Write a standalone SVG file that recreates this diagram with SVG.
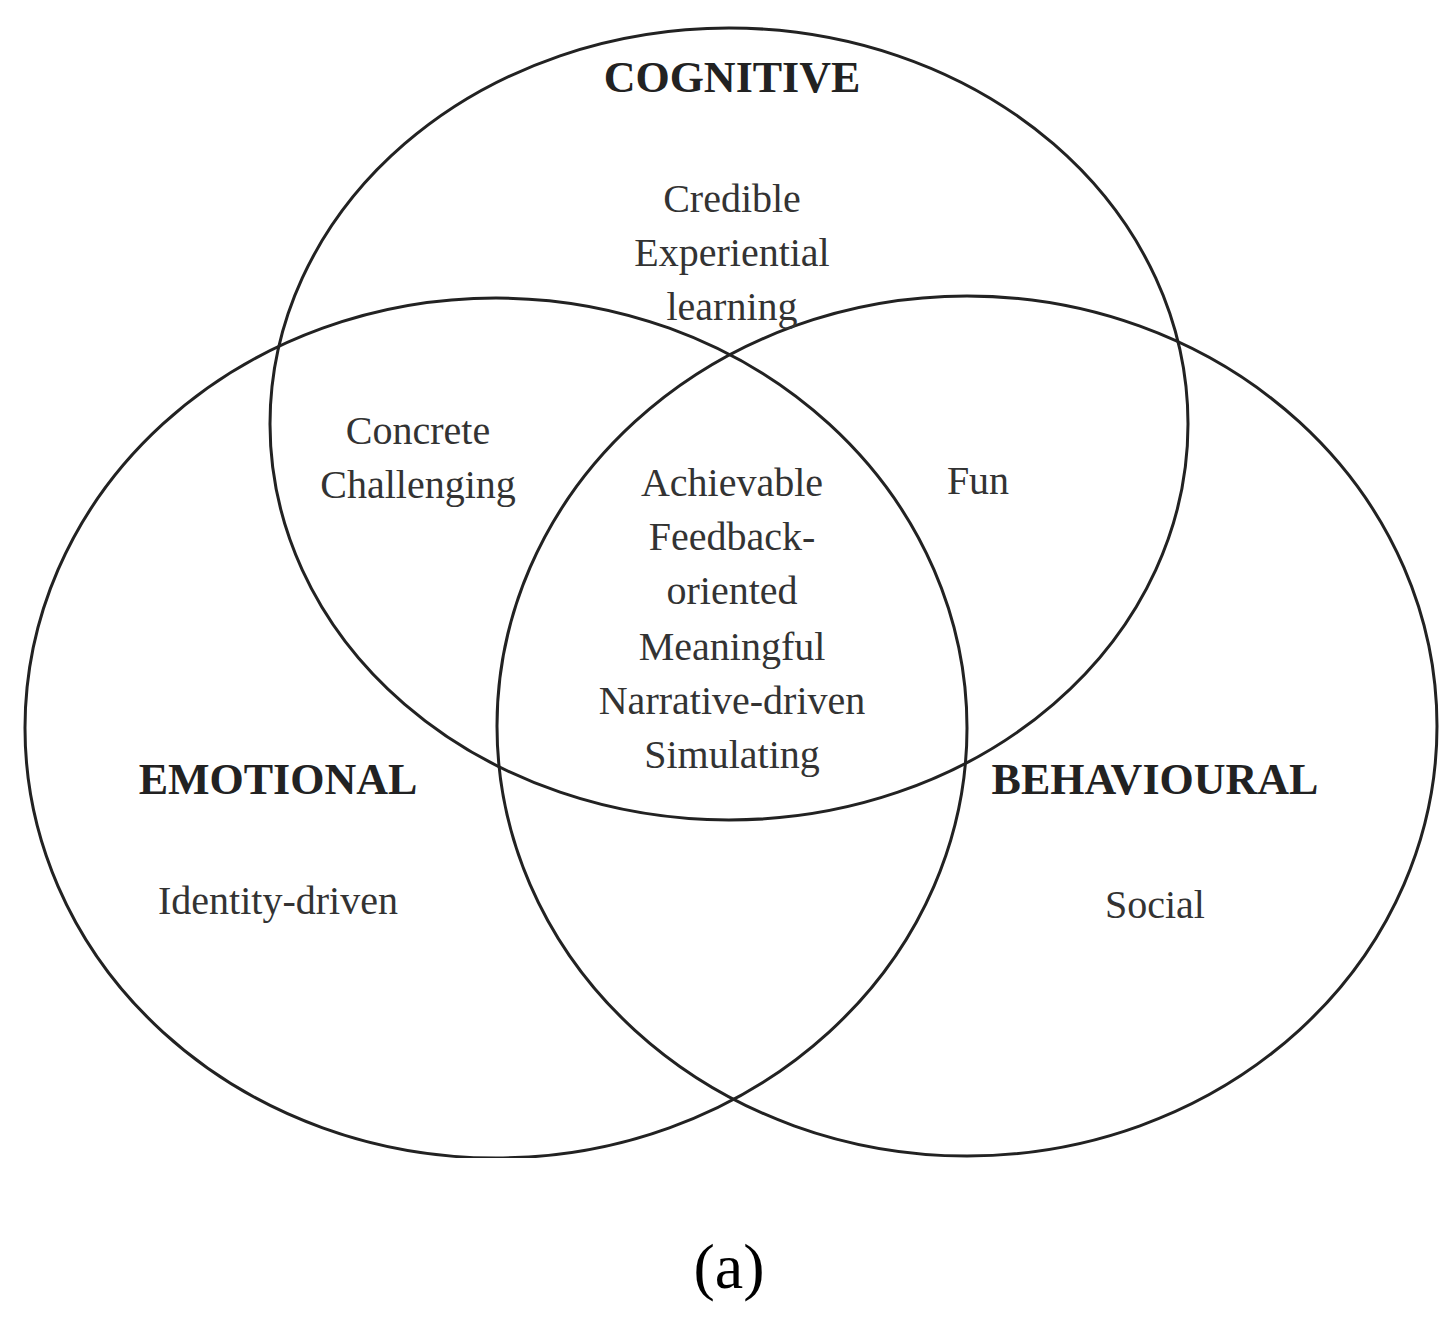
<svg xmlns="http://www.w3.org/2000/svg" width="1456" height="1328" viewBox="0 0 1456 1328">
<style>
.c{fill:none;stroke:#222;stroke-width:3}
.h{font-family:"Liberation Serif",serif;font-weight:bold;font-size:44px;fill:#222;text-anchor:middle}
.t{font-family:"Liberation Serif",serif;font-size:40px;fill:#333;text-anchor:middle}
</style>
<rect width="1456" height="1328" fill="#fff"/>
<defs><clipPath id="cp"><rect x="0" y="0" width="1456" height="1158"/></clipPath></defs>
<g id="connectors" clip-path="url(#cp)">
<ellipse id="cog" class="c" cx="729" cy="424" rx="459" ry="396"/>
<ellipse id="emo" class="c" cx="496" cy="728" rx="471" ry="430"/>
<ellipse id="beh" class="c" cx="967" cy="726" rx="470" ry="430"/>
</g>
<g id="n-cog"><text class="h" x="732" y="92">COGNITIVE</text>
<text class="t" x="732" y="212">Credible</text><text class="t" x="732" y="266">Experiential</text><text class="t" x="732" y="320">learning</text></g>
<g id="n-ce"><text class="t" x="418" y="444">Concrete</text><text class="t" x="418" y="498">Challenging</text></g>
<g id="n-cb"><text class="t" x="978" y="494">Fun</text></g>
<g id="n-all"><text class="t" x="732" y="496">Achievable</text><text class="t" x="732" y="550">Feedback-</text><text class="t" x="732" y="604">oriented</text><text class="t" x="732" y="660">Meaningful</text><text class="t" x="732" y="714">Narrative-driven</text><text class="t" x="732" y="768">Simulating</text></g>
<g id="n-emo"><text class="h" x="278" y="794">EMOTIONAL</text><text class="t" x="278" y="914">Identity-driven</text></g>
<g id="n-beh"><text class="h" x="1155" y="794">BEHAVIOURAL</text><text class="t" x="1155" y="918">Social</text></g>
<g id="cap"><text x="729" y="1288" font-family="Liberation Serif,serif" font-size="64" fill="#000" text-anchor="middle">(a)</text></g>
</svg>
